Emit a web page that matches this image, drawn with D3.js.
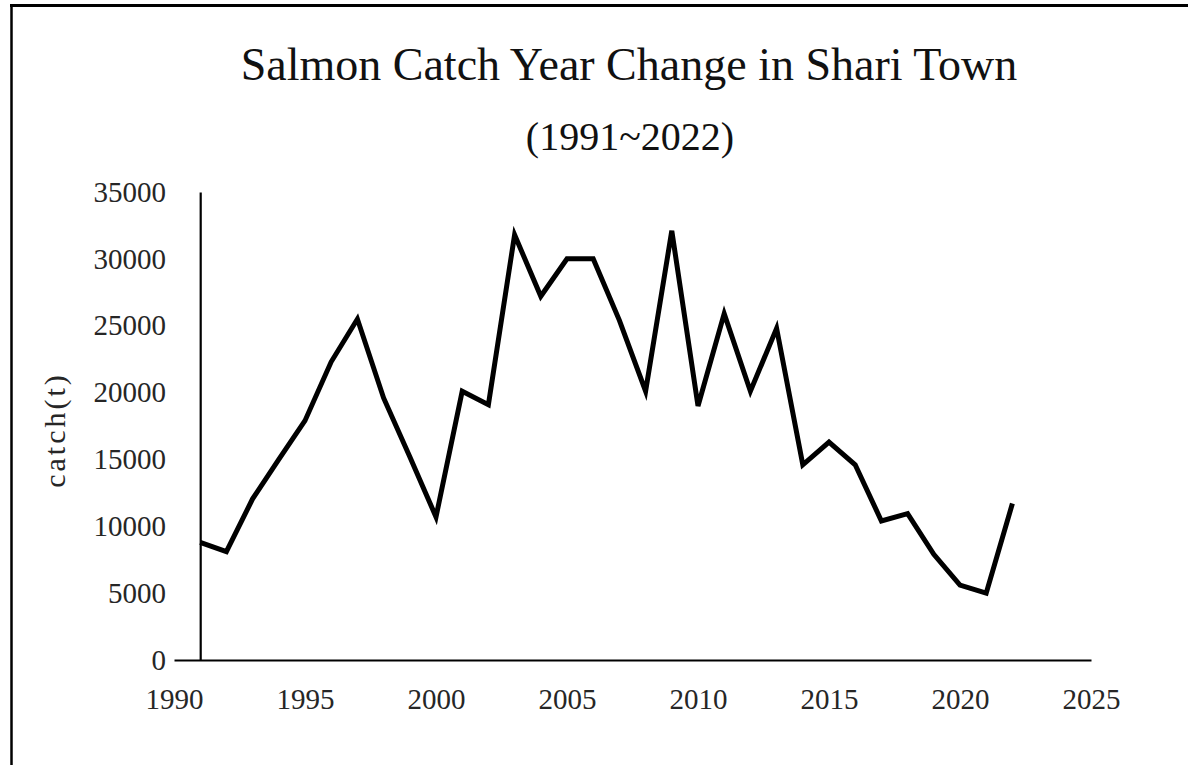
<!DOCTYPE html>
<html>
<head>
<meta charset="utf-8">
<script src="https://cdn.jsdelivr.net/npm/d3@7"></script>
<style>
  html, body { margin: 0; padding: 0; background: #fff; }
  svg { display: block; }
</style>
</head>
<body>
<div id="viz"></div>
<script>
// Salmon catch (t) per year
const YEARS = [
  1991, 1992, 1993, 1994, 1995, 1996, 1997, 1998, 1999, 2000, 2001,
  2002, 2003, 2004, 2005, 2006, 2007, 2008, 2009, 2010, 2011, 2012,
  2013, 2014, 2015, 2016, 2017, 2018, 2019, 2020, 2021, 2022
];
const CATCH_T = [
  8800, 8100, 12050, 15000, 17900, 22300, 25500, 19600, 15200, 10700, 20100,
  19100, 31800, 27200, 30000, 30000, 25400, 20100, 32100, 19000, 25900, 20100,
  24800, 14600, 16300, 14600, 10400, 10950, 7900, 5600, 5000, 11700
];
const X_TICKS = [1990, 1995, 2000, 2005, 2010, 2015, 2020, 2025];
const Y_TICKS = [0, 5000, 10000, 15000, 20000, 25000, 30000, 35000];

const TITLE = "Salmon Catch Year Change in Shari Town";
const SUBTITLE = "(1991~2022)";
const Y_LABEL = "catch(t)";

const W = 1188;
const H = 765;
const SERIF = "'Liberation Serif', 'Times New Roman', serif";
const TEXT_COLOR = "#262626";

const svg = d3.select("#viz")
  .append("svg")
  .attr("width", W)
  .attr("height", H);

svg.append("rect").attr("width", W).attr("height", H).attr("fill", "#fff");

// frame edges visible in the picture (top and left only)
svg.append("line")
  .attr("x1", 10).attr("x2", W)
  .attr("y1", 5.5).attr("y2", 5.5)
  .attr("stroke", "#000").attr("stroke-width", 3);
svg.append("line")
  .attr("x1", 11.5).attr("x2", 11.5)
  .attr("y1", 4).attr("y2", H)
  .attr("stroke", "#000").attr("stroke-width", 2.5);

const x = d3.scaleLinear().domain([1990, 2025]).range([174, 1091]);
const y = d3.scaleLinear().domain([0, 35000]).range([660, 192]);

// titles
svg.append("text")
  .attr("x", 629).attr("y", 80)
  .attr("text-anchor", "middle")
  .attr("font-family", SERIF)
  .attr("font-size", 46)
  .attr("fill", "#111")
  .text(TITLE);

svg.append("text")
  .attr("x", 630).attr("y", 150)
  .attr("text-anchor", "middle")
  .attr("font-family", SERIF)
  .attr("font-size", 40)
  .attr("fill", "#111")
  .text(SUBTITLE);

// x axis runs along y = 0, the y axis crosses at the first year
const xAxis = svg.append("g")
  .attr("transform", `translate(0,${y(0)})`)
  .call(d3.axisBottom(x).tickValues(X_TICKS).tickFormat(d3.format("d"))
    .tickSize(0).tickSizeOuter(0).tickPadding(28));

const yAxis = svg.append("g")
  .attr("transform", `translate(${x(YEARS[0])},0)`)
  .call(d3.axisLeft(y).tickValues(Y_TICKS).tickFormat(d3.format("d"))
    .tickSize(0).tickSizeOuter(0).tickPadding(x(YEARS[0]) - 166));

[xAxis, yAxis].forEach(g => {
  g.select(".domain").attr("stroke", "#000").attr("stroke-width", 2.2);
  g.selectAll("text")
    .attr("font-family", SERIF)
    .attr("font-size", 29)
    .attr("fill", TEXT_COLOR);
});

svg.append("text")
  .attr("transform", "translate(65,430) rotate(-90)")
  .attr("text-anchor", "middle")
  .attr("font-family", SERIF)
  .attr("font-size", 30)
  .attr("letter-spacing", 3)
  .attr("fill", TEXT_COLOR)
  .text(Y_LABEL);

// catch series
const line = d3.line()
  .x((d, i) => x(YEARS[i]))
  .y(d => y(d));

svg.append("path")
  .datum(CATCH_T)
  .attr("d", line)
  .attr("fill", "none")
  .attr("stroke", "#000")
  .attr("stroke-width", 5)
  .attr("stroke-linejoin", "miter");
</script>
</body>
</html>
